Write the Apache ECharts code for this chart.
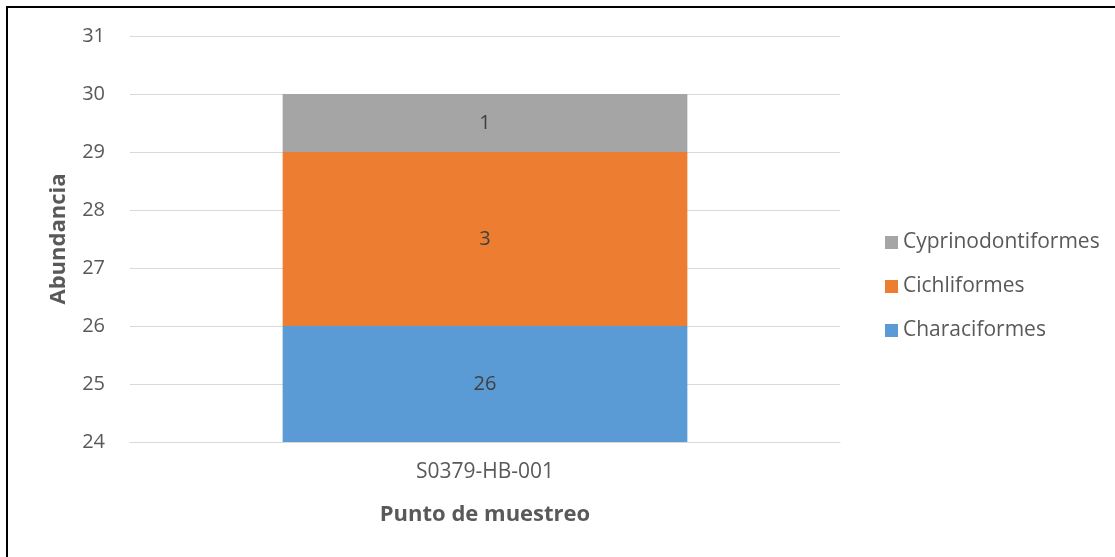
<!DOCTYPE html>
<html><head><meta charset="utf-8">
<script src="https://cdn.jsdelivr.net/npm/echarts@6/dist/echarts.min.js"></script>
<style>html,body{margin:0;padding:0;background:#fff}#c{width:1115px;height:557px}</style>
</head><body><div id="c"></div>
<script>
const categories = ['S0379-HB-001'];
const characiformes = [26];
const cichliformes = [3];
const cyprinodontiformes = [1];
const yTicks = [24, 31, 1];

const font = '"Open Sans", Lato, sans-serif';
const chart = echarts.init(document.getElementById('c'), null, {renderer: 'canvas'});
const lbl = {show: true, position: 'inside', color: '#404040', fontSize: 20, fontFamily: font};
chart.setOption({
  animation: false,
  graphic: [{type: 'rect', shape: {x: 7, y: 7, width: 1300, height: 700}, style: {fill: 'none', stroke: '#000', lineWidth: 2}, silent: true}],
  grid: {left: 130, right: 275, top: 36, bottom: 115},
  legend: {
    orient: 'vertical', left: 880, top: 227, itemWidth: 13, itemHeight: 13, itemGap: 23,
    data: ['Cyprinodontiformes', 'Cichliformes', 'Characiformes'],
    textStyle: {color: '#595959', fontSize: 21, fontFamily: font},
    icon: 'rect'
  },
  xAxis: {
    type: 'category', data: categories,
    name: 'Punto de muestreo', nameLocation: 'middle', nameGap: 62,
    nameTextStyle: {color: '#595959', fontSize: 22, fontWeight: 'bold', fontFamily: font},
    axisLine: {lineStyle: {color: '#d9d9d9'}}, axisTick: {show: false},
    axisLabel: {color: '#595959', fontSize: 21, fontFamily: font, margin: 20}
  },
  yAxis: {
    type: 'value', min: yTicks[0], max: yTicks[1], interval: yTicks[2],
    name: 'Abundancia', nameLocation: 'middle', nameGap: 60,
    nameTextStyle: {color: '#595959', fontSize: 22, fontWeight: 'bold', fontFamily: font},
    axisLine: {show: false}, axisTick: {show: false},
    axisLabel: {color: '#595959', fontSize: 20, fontFamily: font, margin: 25},
    splitLine: {lineStyle: {color: '#d9d9d9'}}
  },
  series: [
    {name: 'Characiformes', type: 'bar', stack: 's', data: characiformes, barWidth: '57%', itemStyle: {color: '#5B9BD5'}, label: lbl},
    {name: 'Cichliformes', type: 'bar', stack: 's', data: cichliformes, itemStyle: {color: '#ED7D31'}, label: lbl},
    {name: 'Cyprinodontiformes', type: 'bar', stack: 's', data: cyprinodontiformes, itemStyle: {color: '#A5A5A5'}, label: lbl}
  ]
});
</script></body></html>
